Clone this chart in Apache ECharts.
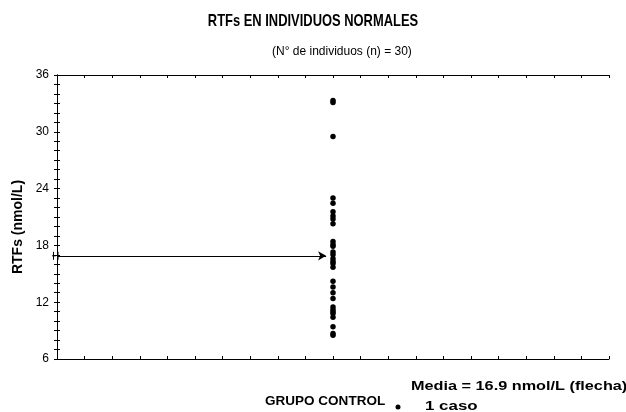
<!DOCTYPE html>
<html>
<head>
<meta charset="utf-8">
<script src="https://cdn.jsdelivr.net/npm/echarts@6/dist/echarts.min.js"></script>
<style>
  html, body { margin: 0; padding: 0; background: #fff; }
  #chart { width: 626px; height: 412px; }
</style>
</head>
<body>
<div id="chart"></div>
<script>
// RTFs values (nmol/L), one per individual (n = 30)
const rtfValues = [
  33.3, 33.1, 29.5, 23.0, 22.45, 21.56, 21.1, 20.8, 20.3, 18.4,
  18.1, 17.9, 17.3, 17.0, 16.6, 16.3, 16.1, 15.7, 14.2, 13.6,
  13.0, 12.4, 11.5, 11.2, 11.0, 10.8, 10.4, 9.4, 8.7, 8.5
]
const groupX = 10          // position of the control group on the hidden x scale
const meanValue = 16.9
const yTicks = [6, 12, 18, 24, 30, 36]

const chart = echarts.init(document.getElementById('chart'))
const font = 'Arial, "Liberation Sans", sans-serif'

const frameX = (pos) => ({
  type: 'value', min: 0, max: 20, interval: 1, position: pos,
  axisLine: { show: true, onZero: false, lineStyle: { color: '#000', width: 1 } },
  axisTick: { show: true, inside: true, length: 3, lineStyle: { color: '#000' } },
  axisLabel: { show: false },
  splitLine: { show: false }
})
// ticks every unit, labels only on the 6-step values
const frameY = (pos, labels) => ({
  type: 'value', min: yTicks[0], max: yTicks[yTicks.length - 1], interval: 1, position: pos,
  axisLine: { show: true, lineStyle: { color: '#000', width: 1 } },
  axisTick: { show: true, inside: true, length: 3, lineStyle: { color: '#000' } },
  axisLabel: {
    show: labels, color: '#000', fontSize: 12, fontFamily: font, margin: 8,
    formatter: v => yTicks.includes(v) ? String(v) : ''
  },
  splitLine: { show: false }
})

const option = {
  animation: false,
  backgroundColor: '#fff',
  title: [
    {
      text: '(N° de individuos (n) = 30)',
      left: 267, top: 41,
      textStyle: { fontSize: 12, fontWeight: 'normal', color: '#000', fontFamily: font }
    }
  ],
  grid: { left: 57, right: 17, top: 75, bottom: 53, containLabel: false },
  xAxis: [frameX('bottom'), frameX('top')],
  yAxis: [frameY('left', true), frameY('right', false)],
  series: [{
    type: 'scatter',
    symbol: 'circle',
    symbolSize: 5.5,
    itemStyle: { color: '#000', opacity: 1 },
    data: rtfValues.map(v => [groupX, v]),
    markLine: {
      silent: true,
      symbol: ['none', 'arrow'],
      symbolSize: [7, 8],
      label: { show: false },
      lineStyle: { color: '#000', width: 1, type: 'solid' },
      data: [[{ coord: [0, meanValue] }, { coord: [groupX - 0.25, meanValue] }]]
    }
  }]
}
chart.setOption(option)

// title, axis break mark and legend texts
const p = chart.convertToPixel({ xAxisIndex: 0, yAxisIndex: 0 }, [0, meanValue])
const label = (text, x, y, size, sx, align) => ({
  type: 'text', x: x, y: y, scaleX: sx,
  style: { text: text, font: 'bold ' + size + 'px ' + font, fill: '#000', align: align || 'left', verticalAlign: 'middle' }
})
chart.setOption({
  graphic: [
    label('RTFs EN INDIVIDUOS NORMALES', 313, 21, 17, 0.76, 'center'),
    { type: 'line', shape: { x1: p[0] - 5, y1: p[1], x2: p[0], y2: p[1] }, style: { stroke: '#000', lineWidth: 1 } },
    { type: 'line', shape: { x1: p[0] - 3.5, y1: p[1] - 4, x2: p[0] - 3.5, y2: p[1] + 4 }, style: { stroke: '#000', lineWidth: 1 } },
    { type: 'line', shape: { x1: p[0] - 0.5, y1: p[1] - 4, x2: p[0] - 0.5, y2: p[1] + 4 }, style: { stroke: '#fff', lineWidth: 1.5 } },
    { type: 'line', shape: { x1: p[0] + 1, y1: p[1] - 4, x2: p[0] + 1, y2: p[1] + 4 }, style: { stroke: '#000', lineWidth: 1 } },
    {
      type: 'text', x: 18, y: 227, rotation: Math.PI / 2,
      style: { text: 'RTFs (nmol/L)', font: 'bold 14px ' + font, fill: '#000', align: 'center', verticalAlign: 'middle' }
    },
    label('GRUPO CONTROL', 265, 401, 13, 1.04),
    { type: 'circle', shape: { cx: 398, cy: 407, r: 2.5 }, style: { fill: '#000' } },
    label('Media = 16.9 nmol/L (flecha)', 411, 386, 13, 1.25),
    label('1 caso', 425, 406, 13, 1.3)
  ]
})
</script>
</body>
</html>
